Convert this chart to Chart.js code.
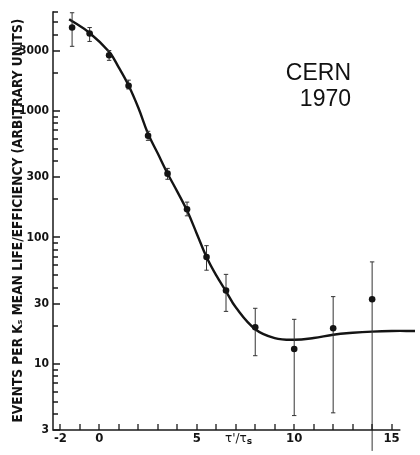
<!DOCTYPE html>
<html>
<head>
<meta charset="utf-8">
<script src="https://cdn.jsdelivr.net/npm/chart.js@4.4.1/dist/chart.umd.min.js"></script>
<style>
  html, body { margin: 0; padding: 0; background: #fff; }
  #wrap { width: 420px; height: 455px; }
</style>
</head>
<body>
<div id="wrap"><canvas id="c" width="420" height="455"></canvas></div>
<script>
// measured points: tau'/tau_s, events, error bar low / high
const tau = [-1.4, -0.5, 0.5, 1.5, 2.5, 3.5, 4.5, 5.5, 6.5, 8, 10, 12, 14];
const events = [4560, 4090, 2750, 1580, 636, 319, 167, 70, 38, 19.5, 13.1, 19.1, 32.4];
const errLow = [3240, 3540, 2510, 1490, 585, 288, 148, 55, 26, 11.6, 3.9, 4.1, 2.05];
const errHigh = [5970, 4560, 3000, 1750, 690, 351, 190, 86, 51, 27.5, 22.5, 34, 64];

// fitted curve
const fitTau = [-1.55, -0.5, 0.5, 1, 1.5, 2, 2.5, 3, 3.5, 4, 4.5, 5, 5.5, 6, 6.5, 7, 8, 9, 10, 11, 12, 13, 14, 15, 16.2];
const fitEvents = [5310, 4130, 2930, 2200, 1590, 1060, 660, 460, 320, 230, 163, 107, 70, 50, 37.5, 28, 18.8, 16.0, 15.5, 16.0, 17.0, 17.6, 18.0, 18.2, 18.2];

const xTicks = [-2, -1, 0, 1, 2, 3, 4, 5, 6, 7, 8, 9, 10, 11, 12, 13, 14, 15];
const xLabels = [-2, 0, 5, 10, 15];
const yLabels = [3, 10, 30, 100, 300, 1000, 3000];
const yMinor = [3, 4, 5, 6, 7, 8, 9, 10, 20, 30, 40, 50, 60, 70, 80, 90,
  100, 200, 300, 400, 500, 600, 700, 800, 900, 1000, 2000, 3000, 4000, 5000, 6000];

const FONT = "'DejaVu Sans Condensed', 'Liberation Sans Narrow', 'DejaVu Sans', sans-serif";
const INK = '#141414';

const paperAxes = {
  id: 'paperAxes',
  afterDatasetsDraw(chart) {
    const { ctx, chartArea } = chart;
    const x = chart.scales.x, y = chart.scales.y;
    const left = chartArea.left, bottom = chartArea.bottom;
    ctx.save();
    ctx.strokeStyle = '#1a1a1a';
    ctx.lineWidth = 1.5;
    ctx.beginPath();
    ctx.moveTo(left, chartArea.top);
    ctx.lineTo(left, bottom);
    ctx.lineTo(x.getPixelForValue(15.45), bottom);
    ctx.stroke();

    ctx.lineWidth = 1.3;
    ctx.beginPath();
    x.ticks.forEach(tk => {
      const px = Math.round(x.getPixelForValue(tk.value));
      ctx.moveTo(px, bottom);
      ctx.lineTo(px, bottom - 6);
    });
    y.ticks.forEach(tk => {
      const py = Math.round(y.getPixelForValue(tk.value));
      const len = yLabels.includes(tk.value) ? 7 : 5;
      ctx.moveTo(left, py);
      ctx.lineTo(left + len, py);
    });
    ctx.stroke();

    // axis name sitting in the tick label row
    ctx.fillStyle = INK;
    ctx.textBaseline = 'middle';
    ctx.textAlign = 'left';
    ctx.font = "12px 'DejaVu Sans', sans-serif";
    const tx = x.getPixelForValue(6.45);
    ctx.fillText("τ'/τ", tx, 439);
    const w = ctx.measureText("τ'/τ").width;
    ctx.font = "bold 9px 'DejaVu Sans', sans-serif";
    ctx.fillText('s', tx + w, 442);

    // annotation
    ctx.font = "23px 'Liberation Sans', Arial, sans-serif";
    ctx.textAlign = 'right';
    ctx.textBaseline = 'alphabetic';
    ctx.fillStyle = '#111';
    ctx.fillText('CERN', 351, 80);
    ctx.fillText('1970', 351, 106);
    ctx.restore();
  }
};

new Chart(document.getElementById('c'), {
  type: 'scatter',
  data: {
    datasets: [
      {
        label: 'data',
        data: tau.map((t, i) => ({ x: t, y: events[i] })),
        pointRadius: 3.3,
        backgroundColor: INK,
        borderWidth: 0
      },
      {
        label: 'caps',
        data: tau.flatMap((t, i) => [{ x: t, y: errLow[i] }, { x: t, y: errHigh[i] }]),
        pointStyle: 'line',
        pointRadius: 2.2,
        borderColor: '#333',
        borderWidth: 1,
        clip: false
      },
      {
        label: 'errors',
        data: tau.flatMap((t, i) => [{ x: t, y: errLow[i] }, { x: t, y: errHigh[i] }, { x: t, y: null }]),
        showLine: true,
        spanGaps: false,
        pointRadius: 0,
        borderColor: '#333',
        borderWidth: 1,
        clip: false
      },
      {
        label: 'fit',
        data: fitTau.map((t, i) => ({ x: t, y: fitEvents[i] })),
        showLine: true,
        pointRadius: 0,
        borderColor: INK,
        borderWidth: 2.4,
        tension: 0.4
      }
    ]
  },
  options: {
    responsive: false,
    animation: false,
    events: [],
    layout: { padding: { top: 6, right: 0, bottom: 0, left: 0 } },
    plugins: { legend: { display: false }, tooltip: { enabled: false } },
    scales: {
      x: {
        type: 'linear',
        min: -2.38,
        max: 16.2,
        afterBuildTicks: s => { s.ticks = xTicks.map(v => ({ value: v })); },
        afterFit: s => { s.height = 25; },
        grid: { display: false, drawTicks: false },
        border: { display: false },
        ticks: {
          autoSkip: false,
          maxRotation: 0,
          padding: 1,
          color: INK,
          font: { family: FONT, size: 13, weight: 'bold' },
          callback: v => xLabels.includes(v) ? String(v) : ''
        }
      },
      y: {
        type: 'logarithmic',
        min: 3,
        max: 6140,
        afterBuildTicks: s => { s.ticks = yMinor.map(v => ({ value: v })); },
        afterFit: s => { s.width = 53; },
        grid: { display: false, drawTicks: false },
        border: { display: false },
        ticks: {
          autoSkip: false,
          padding: 4,
          color: INK,
          font: { family: FONT, size: 12, weight: 'bold' },
          callback: v => yLabels.includes(v) ? String(v) : ''
        },
        title: {
          display: true,
          text: 'EVENTS PER Kₛ MEAN LIFE/EFFICIENCY (ARBITRARY UNITS)',
          color: INK,
          font: { family: FONT, size: 13.6, weight: 'bold', lineHeight: 1 },
          padding: { top: 12, bottom: 0 }
        }
      }
    }
  },
  plugins: [paperAxes]
});
</script>
</body>
</html>
